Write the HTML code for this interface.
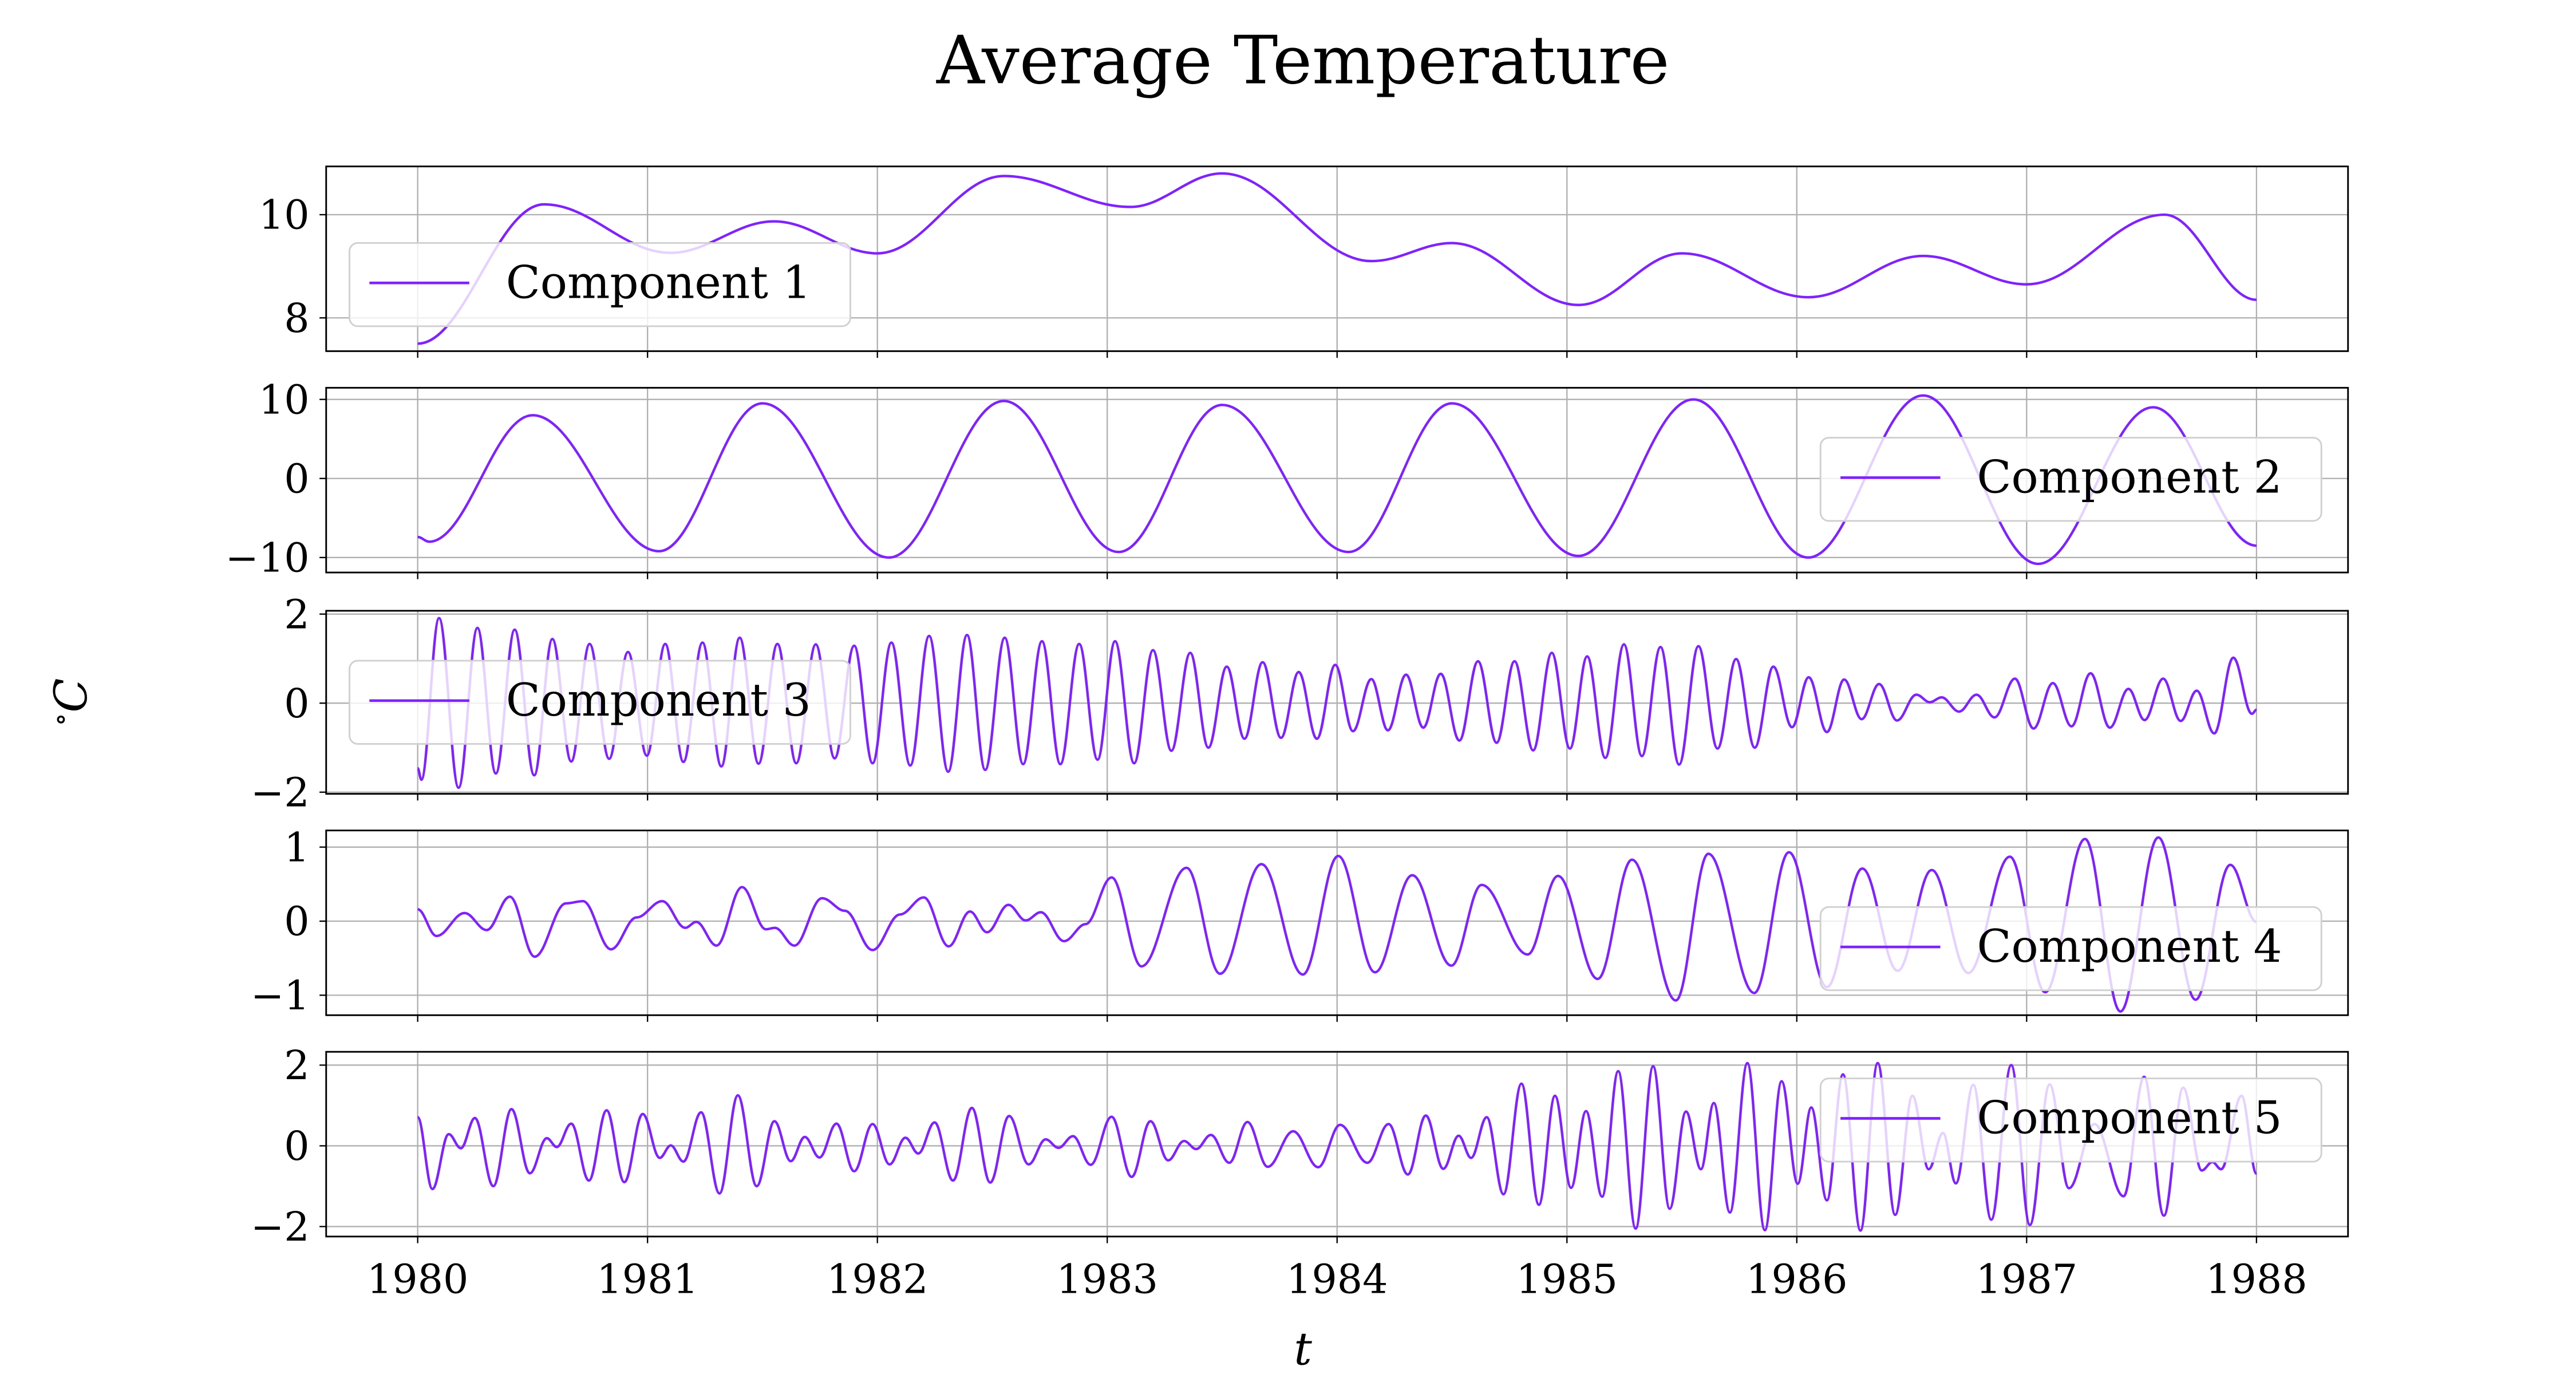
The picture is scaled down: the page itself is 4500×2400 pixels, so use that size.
<!DOCTYPE html>
<html><head><meta charset="utf-8">
<style>
html,body{margin:0;padding:0;background:#fff;}
svg{display:block;}
text{font-family:"DejaVu Serif","Liberation Serif",serif;fill:#000;}
</style></head>
<body>
<svg id="chart" xmlns="http://www.w3.org/2000/svg" width="4500" height="2400" viewBox="0 0 1548 825.6" preserveAspectRatio="none">
<text x="783" y="50" text-anchor="middle" font-size="40">Average Temperature</text>
<text transform="translate(52,422) rotate(-90)" text-anchor="middle" font-size="27" font-style="italic"><tspan font-size="17" dy="-10">∘</tspan><tspan dy="10">C</tspan></text>
<text x="783" y="820" text-anchor="middle" font-size="27" font-style="italic">t</text>
<g id="panels"></g>
</svg>
<script>
// ---- data (time in years since 1980, value in °C) ----
const xTicks = [1980,1981,1982,1983,1984,1985,1986,1987,1988];
const c1T = [0,0.55,1.1,1.55,2.0,2.55,3.1,3.5,4.15,4.5,5.05,5.5,6.05,6.55,7.0,7.6,8.0];
const c1V = [7.5,10.2,9.26,9.87,9.25,10.75,10.15,10.8,9.1,9.45,8.25,9.25,8.4,9.2,8.65,10.0,8.35];
const c2T = [0,0.05,0.5,1.05,1.5,2.05,2.55,3.05,3.5,4.05,4.5,5.05,5.55,6.05,6.55,7.05,7.55,8.0];
const c2V = [-7.4,-8,8,-9.2,9.5,-10,9.8,-9.3,9.3,-9.3,9.5,-9.8,10,-10,10.5,-10.8,9,-8.5];
const c3T = [0,.016,.093,.178,.260,.340,.422,.507,.586,.668,.748,.833,.915,.997,1.077,1.156,1.239,1.321,1.401,1.483,1.565,1.647,1.732,1.814,1.899,1.979,2.061,2.143,2.225,2.308,2.390,2.469,2.554,2.634,2.716,2.796,2.878,2.958,3.034,3.117,3.199,3.279,3.361,3.440,3.520,3.597,3.676,3.756,3.833,3.912,3.992,4.069,4.149,4.221,4.300,4.375,4.451,4.532,4.613,4.694,4.772,4.853,4.934,5.013,5.088,5.167,5.248,5.326,5.407,5.488,5.572,5.655,5.736,5.817,5.898,5.979,6.052,6.131,6.206,6.282,6.358,6.436,6.520,6.579,6.630,6.706,6.782,6.860,6.949,7.030,7.114,7.195,7.278,7.362,7.443,7.513,7.594,7.670,7.740,7.816,7.899,7.980,8.0];
const c3V = [-1.46,-1.72,1.91,-1.90,1.69,-1.58,1.65,-1.62,1.44,-1.31,1.33,-1.25,1.15,-1.18,1.33,-1.32,1.36,-1.42,1.47,-1.36,1.33,-1.35,1.32,-1.24,1.29,-1.35,1.36,-1.40,1.51,-1.54,1.53,-1.50,1.47,-1.37,1.39,-1.37,1.33,-1.27,1.39,-1.35,1.19,-1.07,1.13,-1.00,0.82,-0.80,0.92,-0.78,0.70,-0.80,0.86,-0.63,0.54,-0.61,0.64,-0.55,0.66,-0.84,0.94,-0.89,0.94,-1.06,1.13,-1.02,1.05,-1.23,1.32,-1.19,1.26,-1.38,1.28,-1.02,0.99,-1.00,0.82,-0.54,0.58,-0.65,0.53,-0.36,0.43,-0.39,0.19,0.02,0.13,-0.19,0.19,-0.32,0.55,-0.57,0.45,-0.52,0.67,-0.55,0.32,-0.38,0.55,-0.40,0.28,-0.68,1.02,-0.24,-0.15];
const c4T = [0,.082,.204,.300,.401,.509,.645,.719,.841,.952,1.064,1.164,1.212,1.300,1.411,1.515,1.554,1.639,1.759,1.859,1.979,2.098,2.202,2.310,2.403,2.477,2.570,2.645,2.711,2.812,2.906,3.019,3.149,3.345,3.491,3.671,3.851,4.005,4.165,4.327,4.497,4.629,4.829,4.961,5.134,5.283,5.474,5.615,5.815,5.966,6.131,6.285,6.439,6.587,6.746,6.927,7.081,7.254,7.408,7.573,7.735,7.886,8.0];
const c4V = [0.16,-0.20,0.11,-0.12,0.33,-0.48,0.24,0.27,-0.38,0.05,0.27,-0.09,-0.01,-0.33,0.46,-0.11,-0.09,-0.33,0.31,0.14,-0.39,0.09,0.32,-0.34,0.13,-0.15,0.22,0.01,0.12,-0.27,-0.04,0.59,-0.61,0.72,-0.71,0.77,-0.72,0.88,-0.69,0.62,-0.60,0.49,-0.45,0.61,-0.78,0.83,-1.07,0.91,-0.97,0.93,-0.89,0.71,-0.67,0.69,-0.70,0.87,-0.96,1.11,-1.22,1.13,-1.06,0.76,-0.01];
const c5T = [0,.064,.135,.188,.249,.329,.408,.488,.562,.605,.668,.745,.822,.899,.979,1.053,1.101,1.156,1.233,1.313,1.393,1.475,1.552,1.623,1.684,1.748,1.822,1.899,1.979,2.053,2.122,2.178,2.249,2.329,2.411,2.491,2.573,2.658,2.732,2.788,2.851,2.928,3.019,3.106,3.188,3.265,3.334,3.387,3.451,3.531,3.610,3.698,3.809,3.918,4.013,4.132,4.224,4.308,4.386,4.462,4.529,4.583,4.651,4.724,4.802,4.878,4.948,5.018,5.083,5.153,5.223,5.299,5.375,5.447,5.518,5.583,5.639,5.709,5.785,5.861,5.934,6.004,6.063,6.131,6.201,6.277,6.352,6.428,6.503,6.574,6.636,6.692,6.768,6.846,6.933,7.014,7.100,7.184,7.295,7.422,7.511,7.597,7.681,7.762,7.808,7.846,7.935,8.0];
const c5V = [0.71,-1.07,0.29,-0.06,0.69,-1.00,0.91,-0.68,0.19,-0.03,0.55,-0.86,0.88,-0.90,0.79,-0.30,0.01,-0.39,0.83,-1.18,1.25,-1.00,0.61,-0.38,0.22,-0.29,0.55,-0.63,0.54,-0.46,0.20,-0.19,0.58,-0.86,0.94,-0.91,0.74,-0.46,0.16,-0.05,0.24,-0.47,0.72,-0.77,0.61,-0.36,0.12,-0.08,0.27,-0.42,0.59,-0.52,0.36,-0.53,0.52,-0.42,0.54,-0.71,0.75,-0.57,0.25,-0.30,0.71,-1.20,1.54,-1.46,1.24,-1.04,0.86,-1.26,1.85,-2.05,1.97,-1.56,0.85,-0.58,1.06,-1.65,2.05,-2.09,1.60,-0.94,0.95,-1.35,1.77,-2.10,2.05,-1.71,1.24,-0.58,0.32,-0.93,1.51,-1.83,2.00,-1.96,1.52,-1.05,0.54,-1.25,1.71,-1.73,1.44,-0.61,-0.40,-0.58,1.24,-0.69];
const yTicks1 = [8,10], yLabels1 = ["8","10"];
const yTicks2 = [-10,0,10], yLabels2 = ["−10","0","10"];
const yTicks3 = [-2,0,2], yLabels3 = ["−2","0","2"];
const yTicks4 = [-1,0,1], yLabels4 = ["−1","0","1"];
const yTicks5 = [-2,0,2], yLabels5 = ["−2","0","2"];

const NS = "http://www.w3.org/2000/svg";
const X0 = 196, X1 = 1411;
const xScale = yr => 251 + (yr - 1980) * 138.125;
const tScale = t => xScale(1980 + t);
const panels = [
 {top:100,bot:211,v0:10,y0:129,v1:8,y1:191,T:c1T,V:c1V,ticks:yTicks1,labels:yLabels1,name:"Component 1",lg:[210,146]},
 {top:233,bot:344,v0:10,y0:240,v1:-10,y1:335,T:c2T,V:c2V,ticks:yTicks2,labels:yLabels2,name:"Component 2",lg:[1094,263]},
 {top:367,bot:477,v0:2,y0:369,v1:-2,y1:476,T:c3T,V:c3V,ticks:yTicks3,labels:yLabels3,name:"Component 3",lg:[210,397]},
 {top:499,bot:610,v0:1,y0:509,v1:-1,y1:598,T:c4T,V:c4V,ticks:yTicks4,labels:yLabels4,name:"Component 4",lg:[1094,545]},
 {top:632,bot:743,v0:2,y0:640,v1:-2,y1:737,T:c5T,V:c5V,ticks:yTicks5,labels:yLabels5,name:"Component 5",lg:[1094,648]}
];
function mk(tag, attrs, parent){const e=document.createElementNS(NS,tag);for(const k in attrs)e.setAttribute(k,attrs[k]);parent.appendChild(e);return e;}
const root = document.getElementById('panels');
panels.forEach((p,i)=>{
  const ys = v => p.y0 + (v - p.v0) * (p.y1 - p.y0) / (p.v1 - p.v0);
  const g = mk('g',{},root);
  
  
  xTicks.forEach(yr=>{
    const l = mk('line',{x1:xScale(yr),x2:xScale(yr),y1:p.top,y2:p.bot,stroke:'#b0b0b0','stroke-width':0.8},g);
    
    
    const tk = mk('line',{x1:xScale(yr),x2:xScale(yr),y1:p.bot,y2:p.bot+4,stroke:'#000','stroke-width':0.8},g);
    
    
  });
  p.ticks.forEach((v,j)=>{
    const l = mk('line',{x1:X0,x2:X1,y1:ys(v),y2:ys(v),stroke:'#b0b0b0','stroke-width':0.8},g);
    
    
    const tk = mk('line',{x1:X0-4,x2:X0,y1:ys(v),y2:ys(v),stroke:'#000','stroke-width':0.8},g);
    
    
    const tx = mk('text',{x:X0-10,y:ys(v)+8.5,'text-anchor':'end','font-size':24},g);
    
    
    tx.textContent = p.labels[j];
  });
  let d = '';
  for(let k=0;k<p.T.length;k++){
    const x=tScale(p.T[k]), y=ys(p.V[k]);
    if(k===0){d+='M'+x.toFixed(2)+' '+y.toFixed(2);continue;}
    const xp=tScale(p.T[k-1]), yp=ys(p.V[k-1]), dx=x-xp;
    d+=' C'+(xp+dx*0.37).toFixed(2)+' '+yp.toFixed(2)+' '+(x-dx*0.37).toFixed(2)+' '+y.toFixed(2)+' '+x.toFixed(2)+' '+y.toFixed(2);
  }
  const path = mk('path',{d:d,fill:'none',stroke:'#7f22ff','stroke-width':1.5,'stroke-linejoin':'round'},g);
  
  
  const fr = mk('rect',{x:X0,y:p.top,width:X1-X0,height:p.bot-p.top,fill:'none',stroke:'#000','stroke-width':1},g);
  
  
  const lg = mk('g',{},g);
  
  
  const [lx,ly]=p.lg;
  mk('rect',{x:lx,y:ly,width:301,height:50,rx:5,fill:'#fff','fill-opacity':0.8,stroke:'#d0d0d0','stroke-width':1},lg);
  mk('line',{x1:lx+12,x2:lx+72,y1:ly+24,y2:ly+24,stroke:'#7f22ff','stroke-width':1.6},lg);
  const lt = mk('text',{x:lx+94,y:ly+33,'font-size':27},lg);
  
  
  lt.textContent = p.name;
});
xTicks.forEach(yr=>{
  const t = mk('text',{x:xScale(yr),y:777,'text-anchor':'middle','font-size':24},root);
  
  
  t.textContent = String(yr);
});
</script>
</body></html>
